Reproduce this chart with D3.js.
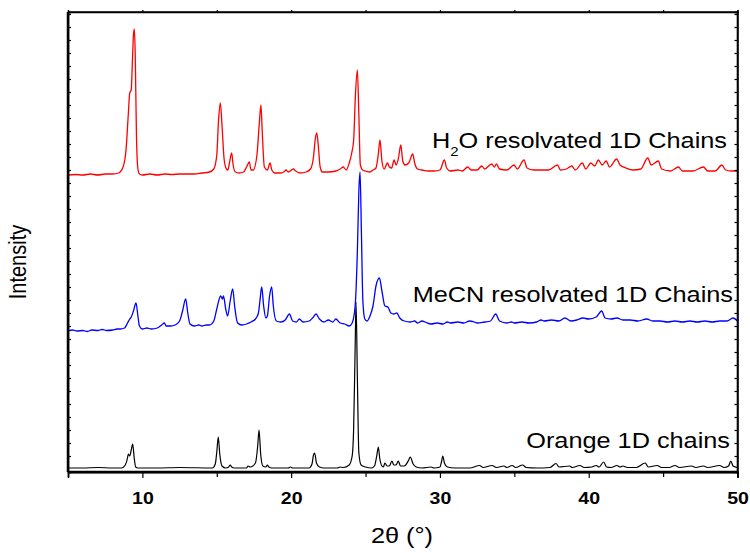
<!DOCTYPE html>
<html>
<head>
<meta charset="utf-8">
<script src="https://cdn.jsdelivr.net/npm/d3@7"></script>
<style>
  body { margin: 0; background: #fff; }
  svg { font-family: Arial, "Liberation Sans", sans-serif; }
  .axis path, .axis line { stroke: #000; }
</style>
</head>
<body>
<svg id="xrd" width="750" height="553"></svg>
<script>
(function() {

// x ticks (2theta, degrees)
var xTicks = [10, 20, 30, 40, 50];
var xMinorTicks = [15, 25, 35, 45];

// y ticks (arbitrary units, unlabelled)
var yTicks = d3.range(16, 460, 13);

// vertical offset of each pattern (a.u.)
var offsets = [4, 141, 297];
var labels = ["Orange 1D chains", "MeCN resolvated 1D Chains", "H2O resolvated 1D Chains"];

// [2theta, intensity above own baseline]
var orange = [
  [5,0],[6,0],[7,0.5],[8,0],[8.6,0],[8.85,3],[9.0,10],[9.05,14],[9.15,12],[9.25,18],[9.35,24],[9.45,10],[9.55,1],[9.7,0],
  [11,0],[12.5,0.5],[14.7,0],[14.9,4],[15.0,16],[15.1,31],[15.2,14],[15.35,2],[15.6,0],[15.8,1],[15.9,3],[16.0,1],[16.2,0],
  [17.0,0],[17.1,2],[17.25,1],[17.6,5],[17.75,22],[17.84,38],[17.95,14],[18.1,2],[18.3,1],[18.4,3],[18.5,1],[18.7,0],
  [19.8,0],[19.95,1],[20.1,0],[21.2,0],[21.4,4],[21.5,13],[21.58,15],[21.7,5],[21.9,1],[22.2,0],
  [23.1,0],[23.3,1],[23.5,0.5],[23.9,3],[24.1,12],[24.2,40],[24.3,120],[24.36,166],[24.45,90],[24.55,15],[24.7,3],[25.0,1],
  [25.4,0],[25.6,2],[25.75,12],[25.86,21],[25.95,10],[26.1,2],[26.2,1],[26.3,5],[26.45,2],[26.6,2],[26.77,7],[26.9,3],
  [27.05,3],[27.2,7],[27.35,2],[27.6,2],[27.9,8],[28.0,11],[28.2,4],[28.4,1],[28.8,0],[29.4,1],[29.6,0],
  [30.0,1],[30.1,6],[30.19,12],[30.3,5],[30.5,1],[31.0,0],[32.0,0],[32.67,2.5],[32.9,0.5],[33.5,2.5],[33.8,0.5],
  [34.3,2],[34.5,0.5],[34.85,2.5],[35.1,0.5],[35.55,3],[35.8,0.5],[36.5,0],[37.4,0.5],[37.8,4.5],[38.0,1],
  [38.7,2],[38.9,0.5],[39.4,2.5],[39.7,0.5],[40.2,1],[40.5,2.5],[40.7,1],[41.0,6],[41.2,1],[41.5,0.5],[41.9,2.5],
  [42.1,1],[42.3,2],[42.6,0.5],[43.2,0.5],[43.8,5],[44.0,1],[44.6,2.5],[44.9,0.5],[45.4,0.5],[45.8,2.5],[46.1,0.5],
  [46.9,2],[47.2,0.5],[47.7,2],[48.0,0.5],[48.8,2.5],[49.1,0.5],[49.4,2],[49.55,7],[49.7,2],[50,0.5]
];

var mecn = [
  [5,0],[5.3,1],[5.6,0],[6,0.5],[6.3,-0.5],[6.6,1],[7,0.5],[7.3,1.5],[7.6,0.5],[8,1],[8.3,2],[8.5,2],[8.8,3],[9.0,8],
  [9.15,12],[9.25,14],[9.4,20],[9.57,28],[9.7,15],[9.8,5],[10.0,2],[10.3,3],[10.6,2],[11.0,3],[11.3,6],[11.47,8],[11.6,5],
  [11.9,5],[12.2,6],[12.5,10],[12.7,20],[12.91,32],[13.05,18],[13.2,7],[13.5,5],[13.8,6],[14.0,5],[14.3,6],[14.5,6],
  [14.8,10],[15.0,22],[15.26,35],[15.38,32],[15.45,35],[15.6,22],[15.73,15],[15.9,30],[16.07,42],[16.2,25],[16.4,8],
  [16.7,6],[17.0,7],[17.3,9],[17.6,12],[17.8,18],[17.9,30],[18.02,44],[18.15,25],[18.3,13],[18.4,15],[18.55,35],
  [18.69,44],[18.8,25],[19.0,10],[19.3,9],[19.6,11],[19.88,17],[20.1,10],[20.35,9],[20.55,12],[20.8,9],[21.2,10],
  [21.5,14],[21.67,17],[21.9,12],[22.2,9],[22.5,11],[22.8,9],[23.0,12],[23.3,8],[23.6,7],[23.9,5],[24.1,8],[24.3,25],
  [24.45,80],[24.55,140],[24.63,159],[24.72,100],[24.82,30],[24.95,12],[25.1,10],[25.3,15],[25.5,25],[25.7,45],
  [25.93,53],[26.1,40],[26.3,25],[26.5,24],[26.7,18],[26.9,17],[27.1,18],[27.3,13],[27.6,10],[28.0,9],[28.3,10],
  [28.5,8],[28.8,10],[29.0,9],[29.4,7],[29.8,8],[30.2,7],[30.5,9],[30.7,8],[31.2,9],[31.6,8],[32.0,10],[32.3,9],
  [32.5,8],[33.0,9],[33.4,10],[33.75,17],[34.0,10],[34.5,8],[34.8,9],[35.0,8],[35.5,9],[36.0,8],[36.5,9],[36.8,11],
  [37.0,10],[37.5,11],[38.0,10],[38.4,13],[38.8,10],[39.2,11],[39.6,13],[40.0,12],[40.5,14],[40.87,20],[41.1,13],
  [41.5,12],[41.9,13],[42.3,11],[42.8,11],[43.3,10],[43.9,12],[44.3,10],[44.8,10],[45.3,9],[45.8,10],[46.3,9],
  [46.8,10],[47.3,9],[47.8,10],[48.3,9],[48.8,10],[49.3,10],[49.7,13],[50,10]
];

var water = [
  [5,0],[5.5,0.5],[6,0],[6.5,1],[7,0],[7.5,1],[8,1],[8.4,2],[8.7,8],[8.9,25],[9.05,60],[9.15,82],[9.25,85],[9.32,110],
  [9.4,140],[9.46,146],[9.52,120],[9.6,40],[9.7,6],[9.8,1],[10,0],[10.5,1],[11,0],[11.5,1],[12,0.5],[12.5,1],[13,1],
  [13.5,1],[14,2],[14.5,3],[14.8,6],[15.0,20],[15.12,55],[15.24,72],[15.35,50],[15.5,15],[15.65,6],[15.75,5],
  [15.85,12],[16.0,22],[16.1,10],[16.25,3],[16.5,2],[16.8,3],[17.0,8],[17.19,13],[17.3,5],[17.45,5],[17.7,20],
  [17.85,50],[17.97,70],[18.05,45],[18.2,8],[18.4,5],[18.58,12],[18.7,5],[18.9,2],[19.3,2],[19.5,3],[19.66,5],
  [19.8,3],[20.15,6],[20.3,4],[20.6,2],[21.0,3],[21.3,6],[21.5,18],[21.62,36],[21.72,42],[21.82,30],[21.95,8],
  [22.1,3],[22.5,3],[23.0,4],[23.3,6],[23.5,8],[23.7,5],[23.9,12],[24.07,22],[24.2,35],[24.32,80],[24.45,105],
  [24.55,60],[24.65,10],[24.8,5],[25.0,4],[25.3,3],[25.5,5],[25.7,7],[25.85,20],[25.97,35],[26.1,14],[26.25,6],
  [26.47,12],[26.6,8],[26.75,7],[26.92,15],[27.05,10],[27.2,16],[27.37,30],[27.5,14],[27.65,10],[27.9,12],
  [28.17,21],[28.3,12],[28.5,6],[28.8,5],[29.2,4],[29.6,4],[30.0,5],[30.3,15],[30.45,7],[30.7,4],[31.2,5],[31.5,4],
  [31.87,8],[32.1,5],[32.5,5],[32.81,9],[33.0,6],[33.48,11],[33.65,8],[33.8,11],[34.0,6],[34.5,5],[34.98,10],
  [35.2,6],[35.65,15],[35.85,7],[36.3,5],[36.9,5],[37.3,5],[37.9,10],[38.1,5],[38.5,6],[38.86,9],[39.1,5],
  [39.57,12],[39.8,6],[40.14,12],[40.4,9],[40.65,15],[40.9,10],[41.17,14],[41.4,8],[41.88,16],[42.1,10],[42.5,7],
  [43.0,5],[43.5,6],[43.97,17],[44.2,10],[44.68,14],[44.9,6],[45.5,4],[46.03,8],[46.3,4],[47.0,4],[47.71,8],
  [48.0,4],[48.5,4],[48.95,10],[49.2,5],[49.6,4],[50,4]
];

var svg = d3.select("#xrd"),
    margin = {top: 12, right: 12.5, bottom: 81, left: 68},
    width = +svg.attr("width") - margin.left - margin.right,
    height = +svg.attr("height") - margin.top - margin.bottom;

var x = d3.scaleLinear().domain([5, 50]).range([0, width]),
    y = d3.scaleLinear().domain([0, 460]).range([height, 0]);

var g = svg.append("g")
    .attr("transform", "translate(" + margin.left + "," + margin.top + ")");

var stretch = "scale(1.15,1)";

// curves
var series = [
  {data: orange, off: offsets[0], color: "#000000", w: 1.2},
  {data: mecn, off: offsets[1], color: "#0000ff", w: 1.3},
  {data: water, off: offsets[2], color: "#ff0000", w: 1.3}
];

series.forEach(function(s) {
  var line = d3.line()
      .curve(d3.curveMonotoneX)
      .x(function(d) { return x(d[0]); })
      .y(function(d) { return y(d[1] + s.off); });
  g.append("path")
      .datum(s.data)
      .attr("fill", "none")
      .attr("stroke", s.color)
      .attr("stroke-width", s.w)
      .attr("stroke-linejoin", "round")
      .attr("d", line);
});

// axes
var xAxis = g.append("g")
    .attr("class", "axis axis--x")
    .attr("transform", "translate(0," + height + ")")
    .call(d3.axisBottom(x).tickValues(xTicks).tickSize(6).tickPadding(14).tickFormat(d3.format("d")));
xAxis.selectAll("text")
    .attr("transform", stretch)
    .style("font-size", "17px")
    .style("font-weight", "bold")
    .attr("fill", "#000");

g.append("g")
    .attr("class", "axis")
    .attr("transform", "translate(0," + height + ")")
    .call(d3.axisBottom(x).tickValues(xMinorTicks).tickSize(5).tickFormat(""));

g.append("g")
    .attr("class", "axis")
    .call(d3.axisTop(x).tickValues(xTicks.concat(xMinorTicks)).tickSize(2).tickFormat(""));

g.append("g")
    .attr("class", "axis")
    .call(d3.axisLeft(y).tickValues(yTicks).tickSize(-3).tickFormat(""));

g.append("g")
    .attr("class", "axis")
    .attr("transform", "translate(" + width + ",0)")
    .call(d3.axisRight(y).tickValues(yTicks).tickSize(-3).tickFormat(""));

g.selectAll(".axis path").attr("stroke-width", 1.5);
g.selectAll(".axis line").attr("stroke-width", 1.2);

// frame: heavier bottom and left sides
g.append("line").attr("x1", 0).attr("x2", width).attr("y1", height).attr("y2", height)
    .attr("stroke", "#000").attr("stroke-width", 2.5);
g.append("line").attr("x1", 0).attr("x2", 0).attr("y1", 0).attr("y2", height)
    .attr("stroke", "#000").attr("stroke-width", 2.5);
g.append("line").attr("x1", 0).attr("x2", width).attr("y1", 0).attr("y2", 0)
    .attr("stroke", "#000").attr("stroke-width", 1.6);
g.append("line").attr("x1", width).attr("x2", width).attr("y1", 0).attr("y2", height)
    .attr("stroke", "#000").attr("stroke-width", 1.6);

// axis titles
svg.append("text")
    .attr("transform", "translate(402,543) " + stretch)
    .attr("text-anchor", "middle")
    .style("font-size", "22px")
    .text("2\u03B8 (\u00B0)");

svg.append("text")
    .attr("transform", "translate(26,262) " + stretch + " rotate(-90)")
    .attr("text-anchor", "middle")
    .style("font-size", "20px")
    .text("Intensity");

// pattern labels
svg.append("text")
    .attr("transform", "translate(730,448) " + stretch)
    .attr("text-anchor", "end")
    .style("font-size", "22px")
    .text(labels[0]);

svg.append("text")
    .attr("transform", "translate(733,302) " + stretch)
    .attr("text-anchor", "end")
    .style("font-size", "22px")
    .text(labels[1]);

var h2o = svg.append("text")
    .attr("transform", "translate(727,148) " + stretch)
    .attr("text-anchor", "end")
    .style("font-size", "22px");
h2o.append("tspan").text("H");
h2o.append("tspan").attr("dy", 8).style("font-size", "13px").text("2");
h2o.append("tspan").attr("dy", -8).text("O resolvated 1D Chains");

})();
</script>
</body>
</html>
